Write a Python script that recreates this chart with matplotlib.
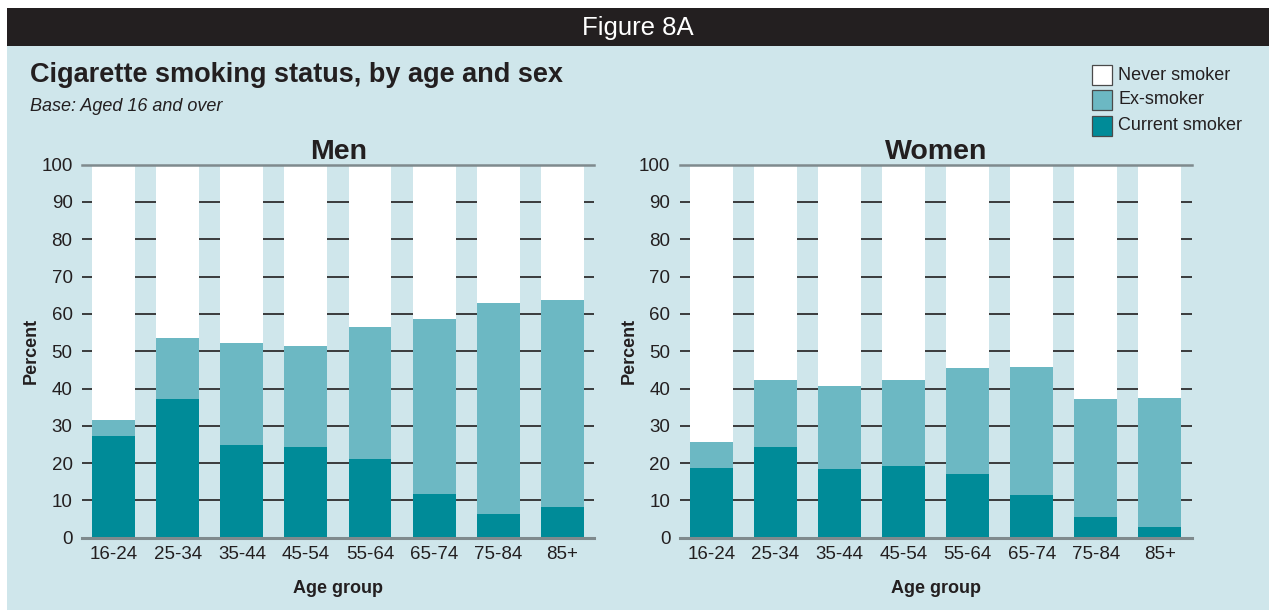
import matplotlib
matplotlib.use("Agg")
import matplotlib.pyplot as plt
from matplotlib.patches import Rectangle
import numpy as np

# ---- data ----
age_groups = ["16-24", "25-34", "35-44", "45-54", "55-64", "65-74", "75-84", "85+"]
men_current = [27.3, 37.2, 24.9, 24.3, 21.1, 11.7, 6.4, 8.2]
men_ex = [4.3, 16.4, 27.3, 27.1, 35.4, 47.0, 56.6, 55.6]
women_current = [18.7, 24.3, 18.4, 19.2, 17.1, 11.4, 5.5, 2.9]
women_ex = [7.0, 18.0, 22.3, 23.1, 28.4, 34.4, 31.7, 34.6]
series_labels = ["Never smoker", "Ex-smoker", "Current smoker"]
y_ticks = [0, 10, 20, 30, 40, 50, 60, 70, 80, 90, 100]

# ---- style ----
W, H = 1269, 610
BG = "#cfe6eb"
HEADER = "#231f20"
C_CUR = "#008b98"
C_EX = "#6cb8c3"
C_NEV = "#ffffff"
GRID = "#2e2e2e"
AXIS_GRAY = "#7f8a8d"
TXT = "#231f20"

plt.rcParams['font.family'] = ['Liberation Sans', 'DejaVu Sans']

fig = plt.figure(figsize=(W / 100, H / 100), dpi=100)
fig.patch.set_facecolor("white")


def fx(x):
    return x / W


def fy(y):
    return 1 - y / H


# background panel and header bar
fig.patches.append(Rectangle((fx(7), 0), 1 - fx(7), fy(46), transform=fig.transFigure,
                             facecolor=BG, edgecolor="none", zorder=-10))
fig.patches.append(Rectangle((fx(7), fy(46)), 1 - fx(7), fy(8) - fy(46), transform=fig.transFigure,
                             facecolor=HEADER, edgecolor="none", zorder=-10))

fig.text(fx(638), fy(28), "Figure 8A", color="white", fontsize=18.5, ha="center", va="center")
fig.text(fx(30), fy(75), "Cigarette smoking status, by age and sex", color=TXT, fontsize=19.5,
         fontweight="bold", ha="left", va="center")
fig.text(fx(30), fy(106), "Base: Aged 16 and over", color=TXT, fontsize=13, style="italic",
         ha="left", va="center")

# legend (manual)
leg_colors = [C_NEV, C_EX, C_CUR]
leg_y = [75, 100, 126]
for lab, col, yc in zip(series_labels, leg_colors, leg_y):
    fig.patches.append(Rectangle((fx(1092), fy(yc + 10)), fx(20), 20 / H, transform=fig.transFigure,
                                 facecolor=col, edgecolor="#4a4a4a", linewidth=0.9, zorder=2))
    fig.text(fx(1118), fy(yc), lab, color=TXT, fontsize=13, ha="left", va="center")

ax_bottom = fy(537.7)
ax_height = fy(164.7) - fy(537.7)
ax_w = 512 / W


def draw_panel(left_px, title, current, ex):
    ax = fig.add_axes([fx(left_px), ax_bottom, ax_w, ax_height])
    ax.set_zorder(1)
    ax.set_facecolor("none")
    x = np.arange(len(age_groups))
    cur = np.array(current)
    exa = np.array(ex)
    never = 100 - cur - exa
    for yv in y_ticks[1:-1]:
        ax.axhline(yv, color=GRID, linewidth=1.3, zorder=0)
    ax.bar(x, cur, width=0.67, color=C_CUR, zorder=2, linewidth=0)
    ax.bar(x, exa, width=0.67, bottom=cur, color=C_EX, zorder=2, linewidth=0)
    ax.bar(x, never, width=0.67, bottom=cur + exa, color=C_NEV, zorder=2, linewidth=0)
    ax.axhline(100, color=AXIS_GRAY, linewidth=1.8, zorder=3, clip_on=False)
    ax.axhline(0, color=AXIS_GRAY, linewidth=2.2, zorder=3, clip_on=False)
    ax.set_xlim(-0.49, 7.5)
    ax.set_ylim(0, 100)
    ax.set_yticks(y_ticks)
    ax.set_yticklabels([str(v) for v in y_ticks], fontsize=13.5, color=TXT)
    ax.set_xticks(x)
    ax.set_xticklabels(age_groups, fontsize=13.5, color=TXT)
    ax.tick_params(axis="both", length=0)
    ax.tick_params(axis="y", pad=7)
    ax.tick_params(axis="x", pad=6)
    for s in ax.spines.values():
        s.set_visible(False)
    ax.set_title(title, fontsize=20.5, fontweight="bold", color=TXT, pad=1)
    ax.set_xlabel("Age group", fontsize=13, fontweight="bold", color=TXT, labelpad=12)
    ax.set_ylabel("Percent", fontsize=13, fontweight="bold", color=TXT, labelpad=1)
    return ax


draw_panel(82.3, "Men", men_current, men_ex)
draw_panel(680, "Women", women_current, women_ex)

fig.savefig("out.png", dpi=100, facecolor=fig.get_facecolor())
